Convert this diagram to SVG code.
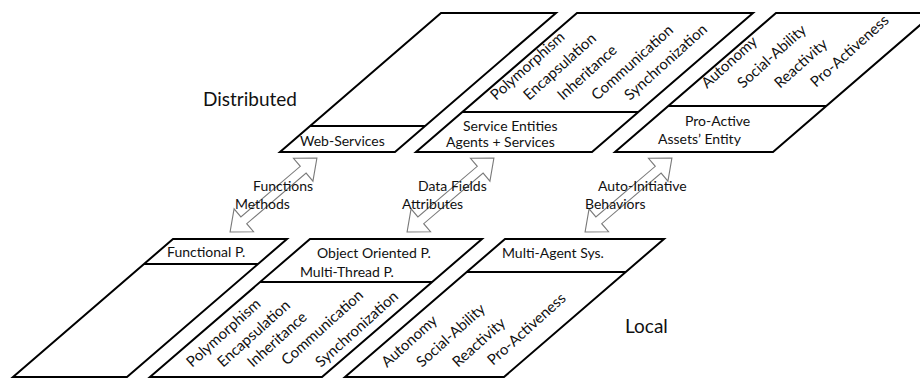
<svg xmlns="http://www.w3.org/2000/svg" xmlns:xlink="http://www.w3.org/1999/xlink" width="920" height="379" viewBox="0 0 920 379">
<style>
.shape{fill:#fff;stroke:#000;stroke-width:2;stroke-linejoin:miter}
.band{stroke:#000;stroke-width:2}
.t{font-family:Lato,"Open Sans","Liberation Sans",sans-serif;font-size:14px;fill:#111}
.r{font-family:Lato,"Open Sans","Liberation Sans",sans-serif;font-size:15px;fill:#111}
.big{font-family:Lato,"Open Sans","Liberation Sans",sans-serif;font-size:19px;fill:#111}
.arrow{fill:#fff;stroke:#7a7a7a;stroke-width:1.1;stroke-linejoin:miter}
</style>
<defs>
<polygon id="dblArrow" points="-57,0 -39,-15 -39,-4.5 39,-4.5 39,-15 57,0 39,15 39,4.5 -39,4.5 -39,15"/>
</defs>
<rect width="920" height="379" fill="#fff"/>

<text class="big" x="203" y="106">Distributed</text>
<text class="big" x="625" y="333">Local</text>

<g id="web-services">
<polygon class="shape" points="441,13 556,13 395,152 280,152"/>
<line class="band" x1="310" y1="126" x2="425" y2="126"/>
<text class="t" x="300" y="146">Web-Services</text>
</g>

<g id="service-entities">
<polygon class="shape" points="577,13 753,13 592,152 416,152"/>
<line class="band" x1="462" y1="112" x2="638" y2="112"/>
<text class="t" x="463" y="131">Service Entities</text>
<text class="t" x="446" y="147">Agents + Services</text>
<text class="r" transform="translate(496,101) rotate(-42)">Polymorphism</text>
<text class="r" transform="translate(529,101) rotate(-42)">Encapsulation</text>
<text class="r" transform="translate(563,101) rotate(-42)">Inheritance</text>
<text class="r" transform="translate(597,101) rotate(-42)">Communication</text>
<text class="r" transform="translate(630,101) rotate(-42)">Synchronization</text>
</g>

<g id="pro-active">
<polygon class="shape" points="776,13 934,13 773,152 615,152"/>
<line class="band" x1="668" y1="106" x2="826" y2="106"/>
<text class="t" x="685" y="126">Pro-Active</text>
<text class="t" x="658" y="144">Assets’ Entity</text>
<text class="r" transform="translate(707,89) rotate(-42)">Autonomy</text>
<text class="r" transform="translate(743,89) rotate(-42)">Social-Ability</text>
<text class="r" transform="translate(780,89) rotate(-42)">Reactivity</text>
<text class="r" transform="translate(816,88) rotate(-42)">Pro-Activeness</text>
</g>

<g id="functional">
<polygon class="shape" points="173,239 287,239 127,377 13,377"/>
<line class="band" x1="144" y1="264" x2="258" y2="264"/>
<text class="t" x="167" y="257">Functional P.</text>
</g>

<g id="object-oriented">
<polygon class="shape" points="310,239 482,239 322,377 150,377"/>
<line class="band" x1="260" y1="282" x2="432" y2="282"/>
<text class="t" x="317" y="258">Object Oriented P.</text>
<text class="t" x="300" y="277">Multi-Thread P.</text>
<text class="r" transform="translate(192,368) rotate(-42)">Polymorphism</text>
<text class="r" transform="translate(223,368) rotate(-42)">Encapsulation</text>
<text class="r" transform="translate(253,368) rotate(-42)">Inheritance</text>
<text class="r" transform="translate(287,366) rotate(-42)">Communication</text>
<text class="r" transform="translate(321,368) rotate(-42)">Synchronization</text>
</g>

<g id="multi-agent">
<polygon class="shape" points="505,239 664,239 504,377 345,377"/>
<line class="band" x1="467" y1="272" x2="626" y2="272"/>
<text class="t" x="502" y="258">Multi-Agent Sys.</text>
<text class="r" transform="translate(387,368) rotate(-42)">Autonomy</text>
<text class="r" transform="translate(422,368) rotate(-42)">Social-Ability</text>
<text class="r" transform="translate(458,368) rotate(-42)">Reactivity</text>
<text class="r" transform="translate(493,366) rotate(-42)">Pro-Activeness</text>
</g>

<g id="connectors">
<use xlink:href="#dblArrow" class="arrow" transform="translate(273.5,195) rotate(-40.4)"/>
<use xlink:href="#dblArrow" class="arrow" transform="translate(450.5,195) rotate(-40.4)"/>
<use xlink:href="#dblArrow" class="arrow" transform="translate(628.5,195) rotate(-40.4)"/>
<text class="t" x="253" y="191">Functions</text>
<text class="t" x="235" y="209">Methods</text>
<text class="t" x="418" y="191">Data Fields</text>
<text class="t" x="402" y="209">Attributes</text>
<text class="t" x="598" y="191">Auto-Initiative</text>
<text class="t" x="585" y="209">Behaviors</text>
</g>
</svg>
